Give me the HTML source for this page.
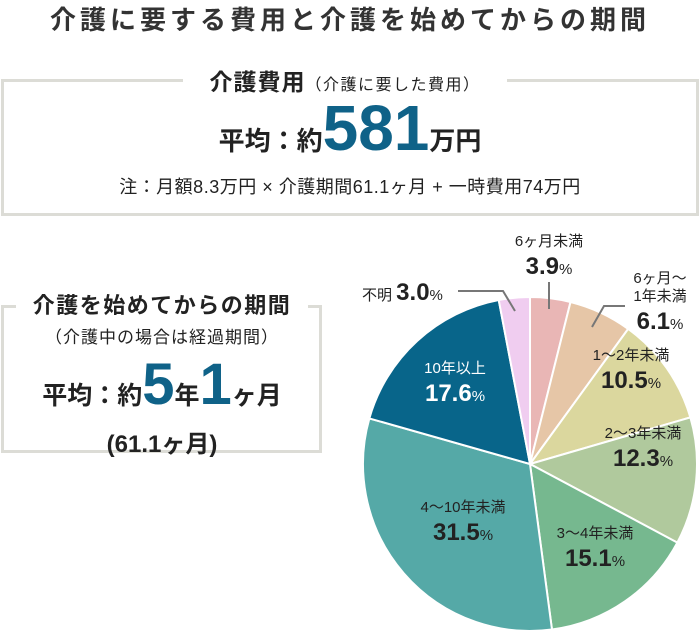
<!DOCTYPE html>
<html><head><meta charset="utf-8"><style>
body{margin:0;width:700px;height:631px;background:#fff;font-family:"Liberation Sans","Noto Sans CJK JP",sans-serif;color:#222;overflow:hidden;position:relative}
.a{position:absolute;white-space:nowrap}
.box{position:absolute;border:3px solid #dcdcd6;box-sizing:border-box}
.blue{color:#0f6288}
</style></head><body>
<div class="a" style="left:0;width:700px;text-align:center;top:0px;font-size:26px;letter-spacing:4px;font-weight:bold;color:#333">介護に要する費用と介護を始めてからの期間</div>

<div class="box" style="left:1px;top:79px;width:698px;height:137px"></div>
<div class="a" style="left:183px;width:324px;text-align:center;top:63px;background:#fff;font-size:23px;letter-spacing:1px;font-weight:bold">介護費用<span style="font-size:16px;font-weight:normal;letter-spacing:1.5px">（介護に要した費用）</span></div>
<div class="a" style="left:0;width:700px;text-align:center;top:96px;font-size:26px;font-weight:bold">平均：約<span class="blue" style="font-size:64px;line-height:64px">581</span>万円</div>
<div class="a" style="left:0;width:700px;text-align:center;top:173px;font-size:18px;letter-spacing:0.5px">注：月額8.3万円 × 介護期間61.1ヶ月 + 一時費用74万円</div>

<div class="box" style="left:1px;top:305px;width:321px;height:148px"></div>
<div class="a" style="left:16px;width:292px;text-align:center;top:288px;background:#fff;font-size:22px;letter-spacing:1.5px;font-weight:bold">介護を始めてからの期間</div>
<div class="a" style="left:0;width:324px;text-align:center;top:323px;font-size:17px;letter-spacing:1px">（介護中の場合は経過期間）</div>
<div class="a" style="left:0;width:324px;text-align:center;top:356px;font-size:25px;font-weight:bold">平均：約<span class="blue" style="font-size:58px;line-height:58px">5</span>年<span class="blue" style="font-size:58px;line-height:58px">1</span>ヶ月</div>
<div class="a" style="left:0;width:324px;text-align:center;top:424px;font-size:24px;font-weight:bold">(61.1ヶ月)</div>

<svg id="pie" width="700" height="631" style="position:absolute;left:0;top:0"></svg>
<script>
const categories=["6ヶ月未満","6ヶ月～1年未満","1～2年未満","2～3年未満","3～4年未満","4～10年未満","10年以上","不明"];
const values=[3.9,6.1,10.5,12.3,15.1,31.5,17.6,3.0];
const colors=["#e9b6b5","#e6c6a7","#dbd79e","#b0c99d","#76b88f","#55a9a7","#08658a","#f0cdf0"];
const cx=530,cy=464,r=167;
const svg=document.getElementById('pie');
const NS="http://www.w3.org/2000/svg";
const total=values.reduce((a,b)=>a+b,0);
function pt(frac,rad){const a=frac*2*Math.PI-Math.PI/2;return [cx+rad*Math.cos(a),cy+rad*Math.sin(a)];}
let acc=0;
values.forEach((v,i)=>{
 const f0=acc/total,f1=(acc+v)/total;acc+=v;
 const p0=pt(f0,r),p1=pt(f1,r);
 const p=document.createElementNS(NS,'path');
 p.setAttribute('d',`M${cx},${cy}L${p0[0]},${p0[1]}A${r},${r} 0 ${f1-f0>0.5?1:0} 1 ${p1[0]},${p1[1]}Z`);
 p.setAttribute('fill',colors[i]);p.setAttribute('stroke','#fff');p.setAttribute('stroke-width','2');
 
 
 svg.appendChild(p);
});
[["549,282 549,309"],["592,327 604,306 625,306"],["458,291 503,291 515,311"]].forEach((l,i)=>{
 const pl=document.createElementNS(NS,'polyline');
 pl.setAttribute('points',l[0]);pl.setAttribute('fill','none');pl.setAttribute('stroke','#777');pl.setAttribute('stroke-width','2');
 
 
 svg.appendChild(pl);
});
const labels=[
 [["6ヶ月未満"],549,246,"#222"],
 [["6ヶ月～","1年未満"],660,283,"#222"],
 [["1～2年未満"],631,360,"#222"],
 [["2～3年未満"],643,438,"#222"],
 [["3～4年未満"],595,538,"#222"],
 [["4～10年未満"],463,512,"#222"],
 [["10年以上"],455,373,"#fff"]
];
labels.forEach((L,i)=>{
 let y=L[2];
 L[0].forEach(s=>{
  const t=document.createElementNS(NS,'text');
  t.setAttribute('x',L[1]);t.setAttribute('y',y);t.setAttribute('text-anchor','middle');
  t.setAttribute('font-size','15');t.setAttribute('fill',L[3]);t.textContent=s;
  
  
  svg.appendChild(t);y+=18;
 });
 const t=document.createElementNS(NS,'text');
 t.setAttribute('x',L[1]);t.setAttribute('y',y+10);t.setAttribute('text-anchor','middle');
 t.setAttribute('font-size','24');t.setAttribute('font-weight','bold');t.setAttribute('fill',L[3]);
 t.innerHTML=values[i].toFixed(1)+'<tspan font-size="15" font-weight="normal">%</tspan>';
 
 
 svg.appendChild(t);
});
const u=document.createElementNS(NS,'text');
u.setAttribute('x','362');u.setAttribute('y','300');u.setAttribute('font-size','15');u.setAttribute('fill','#222');
u.innerHTML='不明 <tspan font-size="24" font-weight="bold">'+values[7].toFixed(1)+'</tspan>%';


svg.appendChild(u);
</script>
</body></html>
